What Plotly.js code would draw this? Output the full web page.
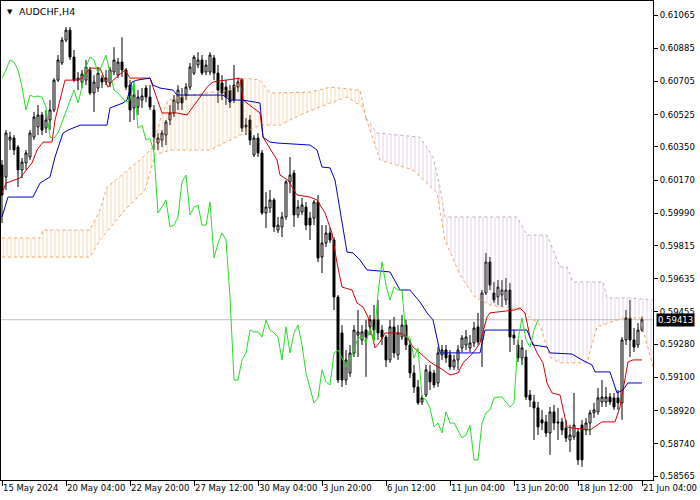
<!DOCTYPE html>
<html><head><meta charset="utf-8">
<script src="https://cdn.plot.ly/plotly-3.0.1.min.js"></script>
<style>html,body{margin:0;padding:0;background:#fff}#chart{width:700px;height:500px}</style>
</head><body><div id="chart"></div>
<script>
const symbolTitle = "AUDCHF,H4";
const xTickIdx = [0,16,32,48,64,80,96,112,128,144,160];
const xTickLabels = ["15 May 2024","20 May 04:00","22 May 20:00","27 May 12:00","30 May 04:00","3 Jun 20:00","6 Jun 12:00","11 Jun 04:00","13 Jun 20:00","18 Jun 12:00","21 Jun 04:00"];
const yTickLabels = ["0.61065","0.60885","0.60705","0.60525","0.60350","0.60170","0.59990","0.59815","0.59635","0.59455","0.59280","0.59100","0.58920","0.58740","0.58565"];
const lastPrice = 0.59413;
const chikouShift = 26;

const opens = [0.60252,0.60187,0.60387,0.60398,0.60349,0.60225,0.60263,0.60295,0.60403,0.60458,
0.60523,0.60452,0.60496,0.60550,0.60712,0.60805,0.60929,0.60983,0.60837,0.60712,
0.60702,0.60712,0.60767,0.60642,0.60669,0.60723,0.60702,0.60696,0.60756,0.60739,
0.60810,0.60767,0.60685,0.60561,0.60566,0.60604,0.60669,0.60620,0.60550,0.60371,
0.60387,0.60414,0.60496,0.60534,0.60588,0.60620,0.60631,0.60674,0.60750,0.60794,
0.60821,0.60756,0.60756,0.60832,0.60750,0.60696,0.60674,0.60658,0.60685,0.60674,
0.60712,0.60458,0.60496,0.60306,0.60398,0.60317,0.59992,0.60019,0.60062,0.59899,
0.59916,0.59970,0.60160,0.60208,0.59981,0.59997,0.60024,0.59964,0.59964,0.60051,
0.59753,0.59829,0.59883,0.59845,0.59536,0.59341,0.59086,0.59124,0.59233,0.59330,
0.59303,0.59357,0.59374,0.59412,0.59412,0.59357,0.59319,0.59195,0.59374,0.59222,
0.59319,0.59384,0.59276,0.59124,0.59048,0.58967,0.59005,0.59130,0.59124,0.59070,
0.59222,0.59249,0.59222,0.59157,0.59195,0.59260,0.59276,0.59260,0.59287,0.59374,
0.59303,0.59558,0.59726,0.59558,0.59536,0.59547,0.59520,0.59574,0.59330,0.59276,
0.59206,0.59211,0.59005,0.58967,0.58935,0.58870,0.58859,0.58799,0.58913,0.58859,
0.58859,0.58826,0.58761,0.58777,0.58805,0.58842,0.58815,0.58853,0.58908,0.58913,
0.58967,0.58967,0.58994,0.58989,0.58989,0.58962,0.59303,0.59422,0.59303,0.59276,
0.59357];
const highs = [0.60279,0.60441,0.60431,0.60414,0.60360,0.60290,0.60333,0.60441,0.60539,0.60577,
0.60539,0.60550,0.60604,0.60723,0.60848,0.60945,0.61000,0.61000,0.60875,0.60756,
0.60767,0.60821,0.60783,0.60739,0.60783,0.60739,0.60767,0.60783,0.60891,0.60832,
0.60945,0.60777,0.60712,0.60685,0.60658,0.60669,0.60685,0.60685,0.60577,0.60425,
0.60441,0.60496,0.60577,0.60631,0.60685,0.60669,0.60696,0.60805,0.60848,0.60864,
0.60848,0.60821,0.60864,0.60848,0.60794,0.60739,0.60712,0.60685,0.60794,0.60723,
0.60723,0.60506,0.60523,0.60414,0.60425,0.60333,0.60105,0.60116,0.60073,0.59970,
0.59997,0.60170,0.60295,0.60225,0.60062,0.60073,0.60051,0.59997,0.60062,0.60089,
0.59926,0.59926,0.59910,0.59861,0.59547,0.59384,0.59249,0.59276,0.59384,0.59466,
0.59384,0.59412,0.59439,0.59493,0.59520,0.59384,0.59330,0.59412,0.59428,0.59384,
0.59439,0.59412,0.59303,0.59168,0.59086,0.59005,0.59168,0.59168,0.59141,0.59265,
0.59276,0.59276,0.59249,0.59222,0.59276,0.59330,0.59357,0.59330,0.59401,0.59450,
0.59574,0.59775,0.59753,0.59618,0.59628,0.59628,0.59639,0.59612,0.59357,0.59303,
0.59303,0.59249,0.59032,0.59005,0.58967,0.58924,0.58897,0.58940,0.58951,0.58935,
0.58880,0.58870,0.58842,0.59016,0.58826,0.58870,0.58880,0.58924,0.58962,0.59043,
0.59086,0.59048,0.59016,0.59016,0.59032,0.59319,0.59466,0.59520,0.59368,0.59395,
0.59430];
const lows = [0.59937,0.60116,0.60333,0.60306,0.60132,0.60181,0.60225,0.60279,0.60387,0.60414,
0.60414,0.60425,0.60441,0.60539,0.60702,0.60794,0.60918,0.60821,0.60702,0.60658,
0.60669,0.60685,0.60631,0.60539,0.60647,0.60669,0.60685,0.60674,0.60739,0.60723,
0.60729,0.60658,0.60485,0.60496,0.60523,0.60561,0.60593,0.60550,0.60333,0.60333,
0.60349,0.60360,0.60468,0.60512,0.60550,0.60550,0.60604,0.60658,0.60739,0.60777,
0.60739,0.60739,0.60739,0.60712,0.60588,0.60604,0.60577,0.60561,0.60588,0.60647,
0.60431,0.60414,0.60360,0.60295,0.60295,0.59981,0.59910,0.59992,0.59889,0.59883,
0.59861,0.59954,0.60100,0.59916,0.59964,0.59981,0.59899,0.59845,0.59926,0.59726,
0.59666,0.59807,0.59829,0.59466,0.59070,0.59048,0.59059,0.59103,0.59211,0.59211,
0.59276,0.59103,0.59330,0.59303,0.59303,0.59276,0.59157,0.59179,0.59206,0.59195,
0.59303,0.59249,0.59097,0.59016,0.58951,0.58951,0.58994,0.59032,0.59043,0.59048,
0.59195,0.59179,0.59141,0.59141,0.59141,0.59238,0.59249,0.59238,0.59265,0.59276,
0.59157,0.59547,0.59574,0.59504,0.59493,0.59482,0.59493,0.59238,0.59276,0.59184,
0.59168,0.58978,0.58940,0.58761,0.58788,0.58815,0.58777,0.58680,0.58815,0.58761,
0.58788,0.58750,0.58696,0.58761,0.58626,0.58615,0.58788,0.58788,0.58880,0.58897,
0.58940,0.58940,0.58951,0.58924,0.58924,0.58870,0.59276,0.59211,0.59238,0.59260,
0.59347];
const closes = [0.60089,0.60425,0.60403,0.60333,0.60225,0.60268,0.60317,0.60425,0.60512,0.60523,
0.60441,0.60496,0.60550,0.60712,0.60821,0.60929,0.60983,0.60837,0.60712,0.60723,
0.60745,0.60783,0.60642,0.60702,0.60750,0.60702,0.60723,0.60767,0.60821,0.60810,
0.60767,0.60674,0.60550,0.60631,0.60620,0.60626,0.60620,0.60566,0.60403,0.60398,
0.60425,0.60485,0.60534,0.60604,0.60658,0.60588,0.60674,0.60783,0.60837,0.60821,
0.60750,0.60794,0.60848,0.60750,0.60658,0.60642,0.60620,0.60593,0.60604,0.60702,
0.60452,0.60468,0.60387,0.60398,0.60317,0.59992,0.60024,0.60062,0.59916,0.59926,
0.59970,0.60160,0.60197,0.59981,0.60024,0.60035,0.59926,0.59926,0.60051,0.59748,
0.59829,0.59883,0.59845,0.59536,0.59086,0.59086,0.59195,0.59233,0.59357,0.59347,
0.59347,0.59319,0.59412,0.59357,0.59341,0.59319,0.59195,0.59374,0.59233,0.59341,
0.59384,0.59276,0.59124,0.59048,0.58962,0.58989,0.59141,0.59076,0.59059,0.59233,
0.59249,0.59206,0.59157,0.59195,0.59249,0.59314,0.59319,0.59287,0.59368,0.59292,
0.59558,0.59726,0.59601,0.59520,0.59590,0.59574,0.59574,0.59319,0.59314,0.59206,
0.59260,0.58994,0.58978,0.58935,0.58832,0.58853,0.58799,0.58913,0.58853,0.58853,
0.58815,0.58772,0.58788,0.58842,0.58653,0.58653,0.58853,0.58908,0.58924,0.58989,
0.58994,0.58994,0.58967,0.58940,0.58962,0.59303,0.59422,0.59303,0.59265,0.59357,
0.59413];

// Tenkan-sen (red) vertices: bar position, price
const tenkanX = [0,1,4.5,7.5,8.75,10.25,12.5,13.25,15.75,18.75,20,22,24.5,26.5,27.75,30,30.75,32,37,37.75,40,43.75,46.25,49.5,51.25,52.75,59.5,60.25,62.75,64.5,65.25,67,68.75,69.5,71.5,73.75,77,78.75,80.75,82.5,83.75,85,87.5,88.75,90.25,91.5,92,93.25,94.5,95.75,99.5,101.25,102.75,104.5,107,110.25,112,114,115.25,117.75,119.5,121.25,122,128.25,129.5,130.75,132,133.75,135.25,136.25,137.5,139.5,141.25,142.5,147,150,153.25,154.5,155.75,156.5,157.75,160];
const tenkanY = [0.60100,0.60154,0.60181,0.60263,0.60333,0.60376,0.60376,0.60496,0.60712,0.60712,0.60723,0.60777,0.60777,0.60674,0.60712,0.60750,0.60767,0.60723,0.60723,0.60674,0.60534,0.60534,0.60523,0.60620,0.60674,0.60702,0.60723,0.60604,0.60561,0.60534,0.60403,0.60344,0.60279,0.60197,0.60170,0.60089,0.60078,0.60062,0.59992,0.59883,0.59721,0.59590,0.59574,0.59504,0.59482,0.59428,0.59374,0.59260,0.59292,0.59341,0.59341,0.59319,0.59265,0.59233,0.59184,0.59141,0.59113,0.59124,0.59179,0.59233,0.59287,0.59428,0.59450,0.59466,0.59477,0.59450,0.59319,0.59233,0.59179,0.59070,0.59016,0.59005,0.58832,0.58826,0.58815,0.58859,0.58859,0.58940,0.59086,0.59184,0.59195,0.59195];

// Kijun-sen (blue)
const kijunX = [0,1.5,7.75,9.5,12,13.25,15.25,16.5,19.5,26.25,27,30.25,31.25,32.5,33.75,37,37.75,39.5,42.75,43.75,55.25,57,60.25,64.5,65.25,67,68.75,77,78.75,80,82,83.25,86.25,87.75,89.5,91.25,97,99.5,102,104.5,106.25,107.75,109,109.5,119.5,120.75,131.25,132.75,136.25,137,142.5,145,147.5,148.25,152,153.75,155.25,156.5,160];
const kijunY = [0.59970,0.60078,0.60078,0.60154,0.60187,0.60295,0.60425,0.60441,0.60468,0.60468,0.60561,0.60588,0.60604,0.60702,0.60712,0.60723,0.60685,0.60669,0.60658,0.60631,0.60631,0.60604,0.60604,0.60588,0.60403,0.60376,0.60371,0.60360,0.60333,0.60241,0.60236,0.60170,0.59780,0.59775,0.59737,0.59683,0.59672,0.59574,0.59574,0.59509,0.59450,0.59412,0.59287,0.59233,0.59233,0.59357,0.59357,0.59276,0.59265,0.59233,0.59227,0.59195,0.59168,0.59130,0.59130,0.59016,0.59032,0.59070,0.59070];

// Senkou span A (sandy brown) and B (thistle), already shifted forward
const spanAX = [0,9.5,10.25,22,24.5,26.25,34.5,37.75,39.5,41.5,47,57,60.75,64.5,67,77,82,89.5,91,94.5,102.75,108.75,110.75,114.5,118.25,122,129.5,134.5,137,139.5,146.25,148.75,155.25,159.5,162.75];
const spanA  = [0.59856,0.59856,0.59899,0.59899,0.60008,0.60132,0.60279,0.60349,0.60496,0.60604,0.60631,0.60658,0.60723,0.60712,0.60642,0.60647,0.60674,0.60658,0.60506,0.60279,0.60225,0.60100,0.59845,0.59655,0.59536,0.59493,0.59466,0.59384,0.59211,0.59179,0.59179,0.59374,0.59422,0.59422,0.59157];
const spanBX = [0,22,24.5,30.75,35.75,38.25,42,52,62,64.5,69.5,74.5,82,86.25,90.25,91,93.75,104.5,107.75,109.5,110.75,128.75,131.25,136.25,139.5,141.25,142.75,150.25,151.25,157,162.75];
const spanB  = [0.59753,0.59753,0.59845,0.60008,0.60116,0.60306,0.60333,0.60333,0.60441,0.60468,0.60468,0.60523,0.60588,0.60620,0.60566,0.60506,0.60425,0.60403,0.60295,0.60132,0.59970,0.59970,0.59872,0.59872,0.59699,0.59699,0.59618,0.59618,0.59531,0.59531,0.59520];
const kumoCross = 91;

const barIdx = closes.map((_, i) => i);
const chikouX = closes.slice(chikouShift).map((_, k) => k);
const chikouY = closes.slice(chikouShift);

function part(xs, ys, test) {
  const ox = [], oy = [];
  xs.forEach((x, i) => { if (test(x)) { ox.push(x); oy.push(ys[i]); } });
  return {x: ox, y: oy};
}
const aUp = part(spanAX, spanA, x => x <= kumoCross);
const bUp = part(spanBX, spanB, x => x <= kumoCross);
const aDn = part(spanAX, spanA, x => x >= kumoCross);
const bDn = part(spanBX, spanB, x => x >= kumoCross);

const orange = '#F4A460', thistle = '#C9A9C9';
const traces = [
  {type:'scatter', mode:'lines', x:aUp.x, y:aUp.y, line:{color:orange, width:1, dash:'dot'}, opacity:0.8, hoverinfo:'skip'},
  {type:'scatter', mode:'lines', x:bUp.x, y:bUp.y, line:{color:orange, width:1, dash:'dot'}, opacity:0.8, fill:'tonexty',
   fillcolor:'rgba(0,0,0,0)', fillpattern:{shape:'|', size:4, solidity:0.22, fgcolor:orange, fgopacity:0.5, bgcolor:'rgba(0,0,0,0)'}, hoverinfo:'skip'},
  {type:'scatter', mode:'lines', x:bDn.x, y:bDn.y, line:{color:thistle, width:1, dash:'dot'}, opacity:0.9, hoverinfo:'skip'},
  {type:'scatter', mode:'lines', x:aDn.x, y:aDn.y, line:{color:orange, width:1, dash:'dot'}, opacity:0.8, fill:'tonexty',
   fillcolor:'rgba(0,0,0,0)', fillpattern:{shape:'|', size:4, solidity:0.22, fgcolor:thistle, fgopacity:0.6, bgcolor:'rgba(0,0,0,0)'}, hoverinfo:'skip'},
  {type:'candlestick', x:barIdx, open:opens, high:highs, low:lows, close:closes,
   increasing:{line:{color:'#000', width:1}, fillcolor:'#fff'},
   decreasing:{line:{color:'#000', width:1}, fillcolor:'#000'},
   whiskerwidth:0, hoverinfo:'skip'},
  {type:'scatter', mode:'lines', x:tenkanX, y:tenkanY, line:{color:'#d40000', width:1}, hoverinfo:'skip'},
  {type:'scatter', mode:'lines', x:kijunX, y:kijunY, line:{color:'#0000c8', width:1}, hoverinfo:'skip'},
  {type:'scatter', mode:'lines', x:chikouX, y:chikouY, line:{color:'#22dd22', width:1}, hoverinfo:'skip'}
];

const axFont = {family:'DejaVu Sans', size:8.5, color:'#000'};
const layout = {
  width:700, height:500,
  margin:{l:1, r:47, t:1, b:20},
  paper_bgcolor:'#fff', plot_bgcolor:'#fff',
  showlegend:false,
  xaxis:{range:[-0.25,162.75], tickvals:xTickIdx, ticktext:xTickLabels, ticks:'outside', ticklen:5,
    tickangle:0, tickcolor:'#000', ticklabelposition:'outside right', showgrid:false, zeroline:false,
    showline:true, mirror:true, linecolor:'#000', linewidth:1, rangeslider:{visible:false},
    tickfont:axFont, fixedrange:true, automargin:false},
  yaxis:{side:'right', range:[0.58544,0.61141], tickvals:yTickLabels.map(Number), ticktext:yTickLabels,
    ticks:'outside', ticklen:4, tickcolor:'#000', showgrid:false, zeroline:false,
    showline:true, mirror:true, linecolor:'#000', linewidth:1, tickfont:axFont, fixedrange:true, automargin:false},
  shapes:[{type:'line', xref:'paper', x0:0, x1:1, yref:'y', y0:lastPrice, y1:lastPrice,
    line:{color:'#c0c0c0', width:1}, layer:'below'}],
  annotations:[
    {xref:'paper', yref:'paper', x:0, y:1, xanchor:'left', yanchor:'top', xshift:4, yshift:-5,
     text:'▼', showarrow:false, font:{family:'DejaVu Sans', size:7, color:'#000'}},
    {xref:'paper', yref:'paper', x:0, y:1, xanchor:'left', yanchor:'top', xshift:16, yshift:-3,
     text:symbolTitle, showarrow:false, font:{family:'DejaVu Sans', size:9.5, color:'#000'}},
    {xref:'paper', yref:'y', x:1, y:lastPrice, xanchor:'left', yanchor:'middle', xshift:3,
     text:lastPrice.toFixed(5), showarrow:false, bgcolor:'#000', borderpad:1,
     font:{family:'DejaVu Sans', size:8.5, color:'#fff'}}
  ]
};
Plotly.newPlot('chart', traces, layout, {staticPlot:true, displayModeBar:false});
</script></body></html>
